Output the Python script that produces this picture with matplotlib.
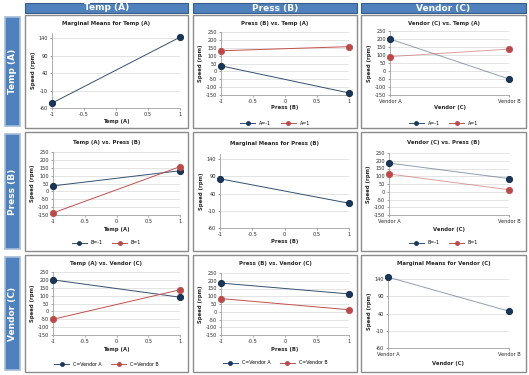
import matplotlib
matplotlib.use('Agg')
import matplotlib.pyplot as plt
from matplotlib.patches import Rectangle
from matplotlib.lines import Line2D

# Data
levels = [-1, 1]
vendors = ['Vendor A', 'Vendor B']

marg_temp = [-46, 143]
marg_press = [83, 12]
marg_vendor = [146, 47]

# rows: temp level, cols: press level
temp_m1_by_press = [35, -137]   # A=-1, B=-1 / B=1
temp_p1_by_press = [131, 157]   # A=1
# rows: temp level, cols: vendor
temp_m1_by_vendor = [200, -50]
temp_p1_by_vendor = [90, 137]
# rows: press level, cols: vendor
press_m1_by_vendor = [185, 85]
press_p1_by_vendor = [115, 13]

W, H = 529, 375
fig = plt.figure(figsize=(W / 100, H / 100), dpi=100)
fig.patch.set_facecolor('white')

HEAD_BLUE = '#4F81BD'
HEAD_EDGE = '#385D8A'
C1_LINE, C1_MARK = '#34506F', '#17375E'
C2_LINE, C2_MARK = '#C0504D', '#B94A48'
TXT = '#262626'

col_x = [(25, 188), (193, 357), (361, 526)]
row_y = [(15, 128), (132, 251), (255, 372)]
col_names = ['Temp (A)', 'Press (B)', 'Vendor (C)']


def fbox(x0, y0, x1, y1):
    return [x0 / W, 1 - y1 / H, (x1 - x0) / W, (y1 - y0) / H]


# headers
for (x0, x1), name in zip(col_x, col_names):
    fig.add_artist(Rectangle((x0 / W, 1 - 13 / H), (x1 - x0) / W, 10 / H,
                             transform=fig.transFigure, facecolor=HEAD_BLUE,
                             edgecolor=HEAD_EDGE, lw=0.8))
    fig.text((x0 + x1) / 2 / W, 1 - 8 / H, name, color='white', fontsize=6.5,
             fontweight='bold', ha='center', va='center')
for (y0, y1), name in zip(row_y, col_names):
    fig.add_artist(Rectangle((5 / W, 1 - (y1 - 2) / H), 15 / W, (y1 - y0 - 4) / H,
                             transform=fig.transFigure, facecolor=HEAD_BLUE,
                             edgecolor='#A6BDDB', lw=1.2))
    fig.text(12.5 / W, 1 - (y0 + y1) / 2 / H, name, color='white', fontsize=6.5,
             fontweight='bold', ha='center', va='center', rotation=90)

# cell borders
for (x0, x1) in col_x:
    for (y0, y1) in row_y:
        fig.add_artist(Rectangle((x0 / W, 1 - y1 / H), (x1 - x0) / W, (y1 - y0) / H,
                                 transform=fig.transFigure, facecolor='none',
                                 edgecolor='#8C8C8C', lw=1.0))


def style_axes(ax, ticks, ylim, categorical):
    ax.set_ylim(*ylim)
    ax.set_yticks(ticks)
    ax.set_yticklabels([str(t) for t in ticks])
    if categorical:
        ax.set_xlim(0, 1)
        ax.set_xticks([0, 1])
        ax.set_xticklabels(vendors)
    else:
        ax.set_xlim(-1, 1)
        ax.set_xticks([-1, -0.5, 0, 0.5, 1])
        ax.set_xticklabels(['-1', '-0.5', '0', '0.5', '1'])
    ax.tick_params(labelsize=3.6, length=1.5, width=0.5, colors='#7F7F7F',
                   labelcolor=TXT, pad=1.5)
    for s in ['top', 'right']:
        ax.spines[s].set_visible(False)
    for s in ['left', 'bottom']:
        ax.spines[s].set_color('#A0A0A0')
        ax.spines[s].set_linewidth(0.6)
    ax.grid(axis='y', color='#D9D9D9', lw=0.5)
    ax.set_axisbelow(True)
    ax.set_ylabel('Speed (rpm)', fontsize=3.8, fontweight='bold', color=TXT, labelpad=2)


def cell(ci, ri, plot_box, title, title_y, xlabel, xlabel_y, series, labels,
         legend_y, ticks, ylim, categorical, light=False):
    ax = fig.add_axes(fbox(*plot_box))
    xs = [0, 1] if categorical else levels
    colors = [(C1_LINE, C1_MARK), (C2_LINE, C2_MARK)]
    handles = []
    for k, ys in enumerate(series):
        lc, mc = colors[k]
        alpha = 0.55 if light else 1.0
        ax.plot(xs, ys, color=lc, lw=0.7, alpha=alpha, zorder=2)
        ax.plot(xs, ys, 'o', color=mc, ms=4.5, mec=lc if k else '#0F243E',
                mew=0.6, zorder=3, clip_on=False)
        handles.append(Line2D([], [], color=lc, lw=0.7, marker='o', ms=2.5,
                              mfc=mc, mec=mc))
    style_axes(ax, ticks, ylim, categorical)
    cx = (col_x[ci][0] + col_x[ci][1]) / 2
    fig.text(cx / W, 1 - title_y / H, title, fontsize=3.9, fontweight='bold',
             color=TXT, ha='center', va='center')
    fig.text((plot_box[0] + plot_box[2]) / 2 / W, 1 - xlabel_y / H, xlabel,
             fontsize=3.8, fontweight='bold', color=TXT, ha='center', va='center')
    if labels:
        ax.legend(handles, labels, loc='center', ncol=2, frameon=False,
                  fontsize=3.4, handlelength=3.2, columnspacing=2.0,
                  bbox_to_anchor=(cx / W, 1 - legend_y / H),
                  bbox_transform=fig.transFigure)
    return ax


wide_ticks = [-150, -100, -50, 0, 50, 100, 150, 200, 250]
marg_ticks = [-60, -10, 40, 90, 140]

# row 1
cell(0, 0, (52, 33, 180, 108), 'Marginal Means for Temp (A)', 23, 'Temp (A)', 121,
     [marg_temp], None, None, marg_ticks, (-60, 155), False)
cell(1, 0, (221, 32, 349, 95), 'Press (B) vs. Temp (A)', 23, 'Press (B)', 108,
     [temp_m1_by_press, temp_p1_by_press], ['A=-1', 'A=1'], 123,
     wide_ticks, (-150, 250), False)
cell(2, 0, (390, 31, 509, 95), 'Vendor (C) vs. Temp (A)', 23, 'Vendor (C)', 108,
     [temp_m1_by_vendor, temp_p1_by_vendor], ['A=-1', 'A=1'], 123,
     wide_ticks, (-150, 250), True, light=True)

# row 2
cell(0, 1, (53, 152, 180, 215), 'Temp (A) vs. Press (B)', 142, 'Temp (A)', 229,
     [[temp_m1_by_press[0], temp_p1_by_press[0]],
      [temp_m1_by_press[1], temp_p1_by_press[1]]], ['B=-1', 'B=1'], 243,
     wide_ticks, (-150, 250), False)
cell(1, 1, (220, 154, 349, 228), 'Marginal Means for Press (B)', 143, 'Press (B)', 242,
     [marg_press], None, None, marg_ticks, (-60, 155), False)
cell(2, 1, (389, 153, 509, 215), 'Vendor (C) vs. Press (B)', 142, 'Vendor (C)', 229,
     [press_m1_by_vendor, press_p1_by_vendor], ['B=-1', 'B=1'], 243,
     wide_ticks, (-150, 250), True, light=True)

# row 3
cell(0, 2, (53, 272, 180, 335), 'Temp (A) vs. Vendor (C)', 263, 'Temp (A)', 349,
     [[temp_m1_by_vendor[0], temp_p1_by_vendor[0]],
      [temp_m1_by_vendor[1], temp_p1_by_vendor[1]]], ['C=Vendor A', 'C=Vendor B'], 364,
     wide_ticks, (-150, 250), False)
cell(1, 2, (221, 273, 349, 335), 'Press (B) vs. Vendor (C)', 263, 'Press (B)', 349,
     [[press_m1_by_vendor[0], press_p1_by_vendor[0]],
      [press_m1_by_vendor[1], press_p1_by_vendor[1]]], ['C=Vendor A', 'C=Vendor B'], 363,
     wide_ticks, (-150, 250), False)
cell(2, 2, (388, 274, 509, 348), 'Marginal Means for Vendor (C)', 264, 'Vendor (C)', 363,
     [marg_vendor], None, None, marg_ticks, (-60, 155), True, light=True)

fig.savefig('out.png', dpi=100)
